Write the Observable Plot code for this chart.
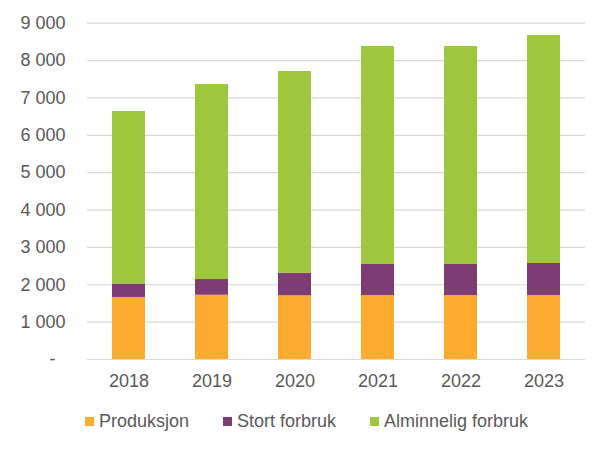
<!DOCTYPE html>
<html>
<head>
<meta charset="utf-8">
<script src="https://cdn.jsdelivr.net/npm/d3@7"></script>
<script src="https://cdn.jsdelivr.net/npm/@observablehq/plot@0.6"></script>
<style>
  body { margin: 0; background: #ffffff; font-family: "Liberation Sans", Arial, sans-serif; }
  #chart { width: 608px; }
  .legend { display: flex; justify-content: center; align-items: center; height: 22px; margin-top: 10px; margin-left: 5px;
            font-size: 18px; color: #595959; font-family: "Liberation Sans", Arial, sans-serif; }
  .legend .item { display: flex; align-items: center; margin: 0 17px; }
  .legend .sw { width: 9px; height: 9px; margin-right: 5px; display: inline-block; }
</style>
</head>
<body>
<div id="chart"></div>
<script>
const years = ["2018", "2019", "2020", "2021", "2022", "2023"];
const seriesNames = ["Produksjon", "Stort forbruk", "Alminnelig forbruk"];
const produksjon = [1660, 1720, 1705, 1712, 1712, 1712];
const stortForbruk = [360, 420, 605, 830, 830, 857];
const alminneligForbruk = [4617, 5219, 5397, 5834, 5834, 6101];
const seriesColors = ["#FBAB30", "#7D3C74", "#9DC83D"];
const yTicks = [0, 1000, 2000, 3000, 4000, 5000, 6000, 7000, 8000, 9000];
const yTickLabels = ["-\u2007", "1 000", "2 000", "3 000", "4 000", "5 000", "6 000", "7 000", "8 000", "9 000"];

const seriesValues = [produksjon, stortForbruk, alminneligForbruk];
const data = [];
seriesNames.forEach((s, si) => {
  years.forEach((yr, i) => data.push({ year: yr, series: s, value: seriesValues[si][i] }));
});

const chart = Plot.plot({
  width: 608,
  height: 400,
  marginTop: 22.7,
  marginBottom: 41,
  marginLeft: 87,
  marginRight: 23,
  style: { background: "#ffffff", color: "#595959", fontSize: "18px", fontFamily: "'Liberation Sans', Arial, sans-serif" },
  x: { domain: years, paddingInner: 0.6, paddingOuter: 0.3, label: null, tickSize: 0, tickPadding: 15 },
  y: { domain: [0, 9000], ticks: yTicks, tickFormat: d => yTickLabels[yTicks.indexOf(d)], label: null, tickSize: 0, tickPadding: 22 },
  color: { domain: seriesNames, range: seriesColors },
  marks: [
    Plot.ruleY(yTicks, { stroke: "#d9d9d9", strokeWidth: 1.2 }),
    Plot.barY(data, { x: "year", y: "value", fill: "series", order: seriesNames })
  ]
});
document.getElementById("chart").appendChild(chart);

const legend = document.createElement("div");
legend.className = "legend";
seriesNames.forEach((s, i) => {
  const item = document.createElement("span");
  item.className = "item";
  const sw = document.createElement("span");
  sw.className = "sw";
  sw.style.background = seriesColors[i];
  item.appendChild(sw);
  item.appendChild(document.createTextNode(s));
  legend.appendChild(item);
});
document.getElementById("chart").appendChild(legend);
</script>
</body>
</html>
